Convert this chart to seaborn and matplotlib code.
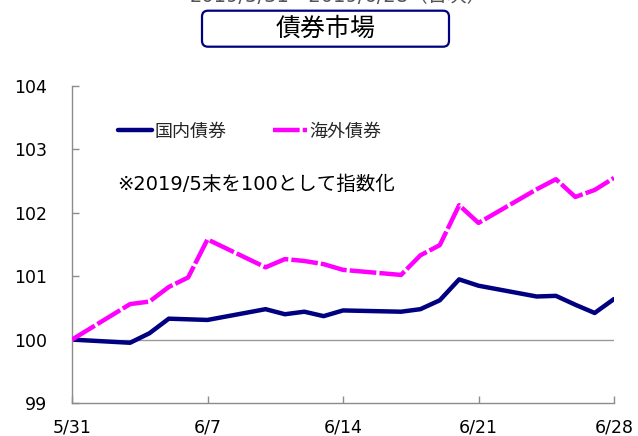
import numpy as np
import pandas as pd
import matplotlib
matplotlib.use("Agg")
import matplotlib.pyplot as plt
from matplotlib.patches import FancyBboxPatch
import seaborn as sns

# ---- data ----
dates = ["2019-05-31", "2019-06-03", "2019-06-04", "2019-06-05", "2019-06-06", "2019-06-07",
         "2019-06-10", "2019-06-11", "2019-06-12", "2019-06-13", "2019-06-14",
         "2019-06-17", "2019-06-18", "2019-06-19", "2019-06-20", "2019-06-21",
         "2019-06-24", "2019-06-25", "2019-06-26", "2019-06-27", "2019-06-28"]
domestic = [100.00, 99.95, 100.10, 100.33, 100.32, 100.31,
            100.48, 100.40, 100.44, 100.37, 100.46,
            100.44, 100.48, 100.62, 100.95, 100.85,
            100.68, 100.69, 100.55, 100.42, 100.64]
foreign = [100.00, 100.56, 100.60, 100.83, 100.98, 101.58,
           101.14, 101.27, 101.24, 101.19, 101.10,
           101.02, 101.33, 101.49, 102.12, 101.84,
           102.37, 102.53, 102.25, 102.36, 102.55]
series_names = ["国内債券", "海外債券"]
xtick_dates = ["2019-05-31", "2019-06-07", "2019-06-14", "2019-06-21", "2019-06-28"]
xtick_labels = ["5/31", "6/7", "6/14", "6/21", "6/28"]
yticks = [99, 100, 101, 102, 103, 104]
title_text = "債券市場"
top_text = "2019/5/31～2019/6/28（日次）"
note_text = "※2019/5末を100として指数化"

df = pd.DataFrame({"date": pd.to_datetime(dates), "domestic": domestic, "foreign": foreign})

sns.set_theme(style="white")
plt.rcParams["font.family"] = ["DejaVu Sans", "Noto Sans CJK JP"]

fig = plt.figure(figsize=(6.38, 4.36), dpi=100)
ax = fig.add_axes([72 / 638, 33 / 436, 542 / 638, 317 / 436])

ax.axhline(100, color="#9a9a9a", lw=1.0, zorder=1)

sns.lineplot(data=df, x="date", y="foreign", ax=ax, color="#FF00FF", lw=3.2,
             linestyle=(0, (6.0, 0.7)), dash_capstyle="butt", label=series_names[1], zorder=3)
sns.lineplot(data=df, x="date", y="domestic", ax=ax, color="#000080", lw=3.2,
             label=series_names[0], zorder=2)

ax.set_xlim(pd.Timestamp(dates[0]), pd.Timestamp(dates[-1]))
ax.set_ylim(99, 104)
ax.set_yticks(yticks)
ax.set_yticklabels([str(v) for v in yticks])
ax.set_xticks(pd.to_datetime(xtick_dates))
ax.set_xticklabels(xtick_labels)
ax.set_xlabel("")
ax.set_ylabel("")

for s in ["top", "right"]:
    ax.spines[s].set_visible(False)
for s in ["left", "bottom"]:
    ax.spines[s].set_color("#8c8c8c")
    ax.spines[s].set_linewidth(1.0)
ax.tick_params(axis="y", direction="in", length=5, width=1, color="#8c8c8c",
               labelsize=12.5, pad=18, labelcolor="black", left=True)
ax.tick_params(axis="x", direction="in", length=5, width=1, color="#8c8c8c",
               labelsize=12.5, pad=11, labelcolor="black", bottom=True)
ax.grid(False)

# legend
handles, labels = ax.get_legend_handles_labels()
order = [labels.index(series_names[0]), labels.index(series_names[1])]
leg = ax.legend([handles[i] for i in order], [labels[i] for i in order],
                loc="center left", bbox_to_anchor=(0.085, 0.856), ncol=2,
                frameon=False, fontsize=13, handlelength=1.9, handletextpad=0.1,
                columnspacing=2.6, borderpad=0, borderaxespad=0)

ax.text(0.083, 0.688, note_text, transform=ax.transAxes, fontsize=14,
        ha="left", va="center", color="black")

# title box
box = FancyBboxPatch((2.02, (436 - 46.7) / 100), 2.47, 0.36,
                     boxstyle="round,pad=0,rounding_size=0.06",
                     transform=fig.dpi_scale_trans, fc="white", ec="#000080", lw=1.6)
fig.patches.append(box)
fig.text(325.5 / 638, 1 - 29 / 436, title_text, ha="center", va="center",
         fontsize=18, color="black")

# partially visible subtitle at very top (cut off as in the reference)
fig.text(338 / 638, 1 - 1.5 / 436, top_text, ha="center", va="baseline",
         fontsize=14, color="#555555")

fig.savefig("out.png", dpi=100)
